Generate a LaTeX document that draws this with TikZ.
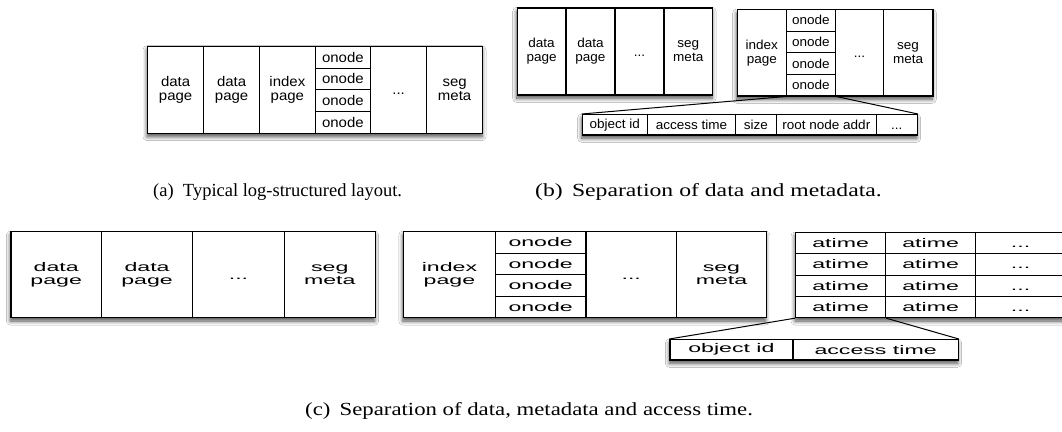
\documentclass[tikz,border=0pt]{standalone}
\usepackage{fontspec}
\setmainfont{Liberation Serif}
\newfontfamily\sansa[FakeStretch=1.07]{Liberation Sans}
\newfontfamily\sansb[FakeStretch=1.04]{Liberation Sans}
\newfontfamily\sansc[FakeStretch=1.85]{Liberation Sans}
\newfontfamily\serifb[FakeStretch=1.28]{Liberation Serif}
\newfontfamily\serifc[FakeStretch=1.23]{Liberation Serif}
\usetikzlibrary{shadows.blur}

% a cell of a segment: style, name, left, top, right, bottom, text
\newcommand\cellbox[7]{%
  \node[#1, anchor=north west, minimum width={(#5)-(#3)}, minimum height={(#6)-(#4)}] (#2) at (#3,#4) {#7};}
% an ellipsis that sits on the same baseline as a word
\newcommand\more{\vphantom{d}...}

\begin{document}
\begin{tikzpicture}[x=1pt, y=-1pt,
  backing/.style={fill=white, blur shadow={shadow xshift=0pt, shadow yshift=-4pt,
      shadow blur radius=4pt, shadow blur steps=6, shadow opacity=70}},
  cellbase/.style={draw, line width=1.2pt, fill=white, inner sep=0pt, align=center},
  cella/.style={cellbase, font=\sansa\fontsize{14}{14.5}\selectfont},
  cellb/.style={cellbase, font=\sansb\fontsize{13}{14}\selectfont},
  cellc/.style={cellbase, font=\sansc\fontsize{12.5}{12.5}\selectfont},
  link/.style={line width=1pt},
  caption/.style={anchor=base west, inner sep=0pt},
]
\clip (0,0) rectangle (1062,431);
\fill[white] (0,0) rectangle (1062,431);

% ---------- (a) typical log-structured layout ----------
\path[backing] (147,45.7) rectangle (482,132.7);
\cellbox{cella}{a1}{147}{45.7}{203}{132.7}{data\\page}
\cellbox{cella}{a2}{203}{45.7}{259}{132.7}{data\\page}
\cellbox{cella}{a3}{259}{45.7}{314.5}{132.7}{index\\page}
\cellbox{cella}{a4}{314.5}{45.7}{370}{67.5}{onode}
\cellbox{cella}{a5}{314.5}{67.5}{370}{89.2}{onode}
\cellbox{cella}{a6}{314.5}{89.2}{370}{111}{onode}
\cellbox{cella}{a7}{314.5}{111}{370}{132.7}{onode}
\cellbox{cella}{a8}{370}{45.7}{426}{132.7}{\more}
\cellbox{cella}{a9}{426}{45.7}{482}{132.7}{seg\\meta}

% ---------- (b) data segment and metadata segment ----------
\path[backing] (516.7,7.3) rectangle (712,94.3);
\cellbox{cellb}{b1}{516.7}{7.3}{565.3}{94.3}{data\\page}
\cellbox{cellb}{b2}{565.3}{7.3}{614.3}{94.3}{data\\page}
\cellbox{cellb}{b3}{614.3}{7.3}{663.3}{94.3}{\more}
\cellbox{cellb}{b4}{663.3}{7.3}{712}{94.3}{seg\\meta}

\path[backing] (736.7,9) rectangle (932.3,95.3);
\cellbox{cellb}{b5}{736.7}{9}{785.7}{95.3}{index\\page}
\cellbox{cellb}{b6}{785.7}{9}{835}{30.5}{onode}
\cellbox{cellb}{b7}{785.7}{30.5}{835}{52}{onode}
\cellbox{cellb}{b8}{785.7}{52}{835}{73.6}{onode}
\cellbox{cellb}{b9}{785.7}{73.6}{835}{95.3}{onode}
\cellbox{cellb}{b10}{835}{9}{882.7}{95.3}{\more}
\cellbox{cellb}{b11}{882.7}{9}{932.3}{95.3}{seg\\meta}

% onode record
\path[backing] (581.7,114) rectangle (916.7,134.3);
\cellbox{cellb}{bd1}{581.7}{114}{646.7}{134.3}{object id}
\cellbox{cellb}{bd2}{646.7}{114}{735}{134.3}{access time}
\cellbox{cellb}{bd3}{735}{114}{775.7}{134.3}{size}
\cellbox{cellb}{bd4}{775.7}{114}{875.7}{134.3}{root node addr}
\cellbox{cellb}{bd5}{875.7}{114}{916.7}{134.3}{\more}
\draw[link] (b9.south west) -- (bd1.north west);
\draw[link] (b9.south east) -- (bd5.north east);

% ---------- (c) data, metadata and access time segments ----------
\path[backing] (10.3,231) rectangle (374.7,317);
\cellbox{cellc}{c1}{10.3}{231}{100.9}{317}{data\\page}
\cellbox{cellc}{c2}{100.9}{231}{192.1}{317}{data\\page}
\cellbox{cellc}{c3}{192.1}{231}{283.7}{317}{\more}
\cellbox{cellc}{c4}{283.7}{231}{374.7}{317}{seg\\meta}

\path[backing] (402.9,231) rectangle (765.8,317);
\cellbox{cellc}{c5}{402.9}{231}{494.8}{317}{index\\page}
\cellbox{cellc}{c6}{494.8}{231}{585.3}{252.5}{onode}
\cellbox{cellc}{c7}{494.8}{252.5}{585.3}{274}{onode}
\cellbox{cellc}{c8}{494.8}{274}{585.3}{295.5}{onode}
\cellbox{cellc}{c9}{494.8}{295.5}{585.3}{317}{onode}
\cellbox{cellc}{c10}{585.3}{231}{675.9}{317}{\more}
\cellbox{cellc}{c11}{675.9}{231}{765.8}{317}{seg\\meta}

\path[backing] (795,232) rectangle (1065,317);
\cellbox{cellc}{t11}{795}{232}{885}{253.2}{atime}
\cellbox{cellc}{t12}{885}{232}{975}{253.2}{atime}
\cellbox{cellc}{t13}{975}{232}{1065}{253.2}{\more}
\cellbox{cellc}{t21}{795}{253.2}{885}{274.5}{atime}
\cellbox{cellc}{t22}{885}{253.2}{975}{274.5}{atime}
\cellbox{cellc}{t23}{975}{253.2}{1065}{274.5}{\more}
\cellbox{cellc}{t31}{795}{274.5}{885}{295.7}{atime}
\cellbox{cellc}{t32}{885}{274.5}{975}{295.7}{atime}
\cellbox{cellc}{t33}{975}{274.5}{1065}{295.7}{\more}
\cellbox{cellc}{t41}{795}{295.7}{885}{317}{atime}
\cellbox{cellc}{t42}{885}{295.7}{975}{317}{atime}
\cellbox{cellc}{t43}{975}{295.7}{1065}{317}{\more}

% atime record
\path[backing] (669.3,339) rectangle (957.7,359.3);
\cellbox{cellc}{cd1}{669.3}{339}{792.3}{359.3}{object id}
\cellbox{cellc}{cd2}{792.3}{339}{957.7}{359.3}{access time}
\draw[link] (t41.south west) -- (cd1.north west);
\draw[link] (t41.south east) -- (cd2.north east);

% ---------- captions ----------
\node[caption, font=\fontsize{18.5}{20}\selectfont] (capa) at (153,196.7)
  {(a)\hspace{0.5em}Typical log-structured layout.};
\node[caption, font=\serifb\fontsize{18.5}{20}\selectfont] (capb) at (535,196.7)
  {(b)\hspace{0.5em}Separation of data and metadata.};
\node[caption, font=\serifc\fontsize{18.5}{20}\selectfont] (capc) at (305,415)
  {(c)\hspace{0.5em}Separation of data, metadata and access time.};
\end{tikzpicture}
\end{document}
